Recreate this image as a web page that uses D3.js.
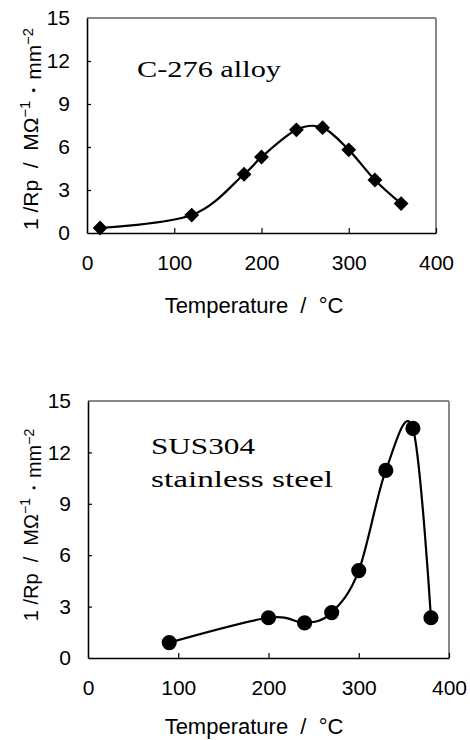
<!DOCTYPE html>
<html>
<head>
<meta charset="utf-8">
<script src="https://cdn.jsdelivr.net/npm/d3@7"></script>
<style>
    body { margin: 0; background: #fff; }
    text { font-family: 'Liberation Sans', Arial, sans-serif; }
    .serif { font-family: 'Liberation Serif', 'Times New Roman', serif; }
</style>
</head>
<body>
<div class="d3-container"></div>
<script>
const w = 470
const h = 740

// data
const tempC276 = [15, 120, 180, 200, 240, 270, 300, 330, 360]
const rpC276 = [0.35, 1.25, 4.1, 5.3, 7.2, 7.35, 5.8, 3.7, 2.05]
const tempSUS = [90, 200, 240, 270, 300, 330, 360, 380]
const rpSUS = [0.9, 2.35, 2.05, 2.65, 5.1, 10.95, 13.4, 2.35]

const xTicks = [0, 100, 200, 300, 400]
const yTicks = [0, 3, 6, 9, 12, 15]

const svg = d3.select('.d3-container')
    .append('svg')
    .attr('width', w)
    .attr('height', h)

const drawPanel = (cfg) => {
    const x = d3.scaleLinear().domain([0, 400]).range([cfg.left, cfg.right])
    const y = d3.scaleLinear().domain([0, 15]).range([cfg.bottom, cfg.top])

    const g = svg.append('g')

    // frame, gray top & right
    g.append('line')
        .attr('x1', cfg.left).attr('x2', cfg.right)
        .attr('y1', cfg.top).attr('y2', cfg.top)
        .attr('stroke', '#888').attr('stroke-width', 2)
    g.append('line')
        .attr('x1', cfg.right).attr('x2', cfg.right)
        .attr('y1', cfg.top).attr('y2', cfg.bottom)
        .attr('stroke', '#888').attr('stroke-width', 2)

    const xAxis = d3.axisBottom(x)
        .tickValues(xTicks)
        .tickSizeInner(-5)
        .tickSizeOuter(0)
        .tickPadding(22)

    const yAxis = d3.axisLeft(y)
        .tickValues(yTicks)
        .tickSizeInner(-4)
        .tickSizeOuter(0)
        .tickPadding(17)

    const gx = g.append('g')
        .attr('transform', `translate(0,${cfg.bottom})`)
        .call(xAxis)
    const gy = g.append('g')
        .attr('transform', `translate(${cfg.left},0)`)
        .call(yAxis)

    for (const a of [gx, gy]) {
        a.select('.domain').attr('stroke', '#000').attr('stroke-width', 1.6)
        a.selectAll('.tick line').attr('stroke', '#000').attr('stroke-width', 1.2)
        a.selectAll('.tick text')
            .attr('fill', '#000')
            .style('font-size', '21px')
    }
    gx.selectAll('.tick line').filter(d => d === 0).remove()
    gy.selectAll('.tick line').filter(d => d === 0 || d === 15).remove()

    // series
    const pts = cfg.xs.map((t, i) => [t, cfg.ys[i]])
    const line = d3.line()
        .x(d => x(d[0]))
        .y(d => y(d[1]))
        .curve(d3.curveCardinal.tension(0))

    g.append('path')
        .datum(pts)
        .attr('d', line)
        .attr('fill', 'none')
        .attr('stroke', '#000')
        .attr('stroke-width', 2.2)

    g.selectAll('.mark')
        .data(pts)
        .enter()
        .append('path')
        .attr('class', 'mark')
        .attr('d', cfg.symbol)
        .attr('transform', d => `translate(${x(d[0])},${y(d[1])}) rotate(${cfg.rot})`)
        .attr('fill', '#000')

    // axis titles
    g.append('text')
        .attr('x', 254)
        .attr('y', cfg.bottom + cfg.labelOff)
        .attr('text-anchor', 'middle')
        .style('font-size', '22px')
        .style('white-space', 'pre')
        .text('Temperature  /  °C')

    const yl = g.append('text')
        .attr('transform', `translate(38,${cfg.yMid}) rotate(-90)`)
        .attr('text-anchor', 'middle')
        .style('font-size', cfg.yFont + 'px')
        .style('white-space', 'pre')
    yl.append('tspan').text('1 /Rp  /  MΩ')
    yl.append('tspan').attr('dy', '-0.55em').style('font-size', '0.7em').text('−1')
    yl.append('tspan').attr('dy', '0.55em').text('・mm')
    yl.append('tspan').attr('dy', '-0.55em').style('font-size', '0.7em').text('−2')

    // panel caption
    cfg.caption.forEach((c, i) => {
        g.append('text')
            .attr('class', 'serif')
            .attr('x', cfg.capX)
            .attr('y', cfg.capY + i * 33)
            .attr('textLength', c.len)
            .attr('lengthAdjust', 'spacingAndGlyphs')
            .style('font-size', '24px')
            .text(c.text)
    })
}

drawPanel({
    left: 87, right: 436, top: 18, bottom: 233,
    xs: tempC276, ys: rpC276,
    symbol: d3.symbol(d3.symbolSquare, 110)(),
    rot: 45,
    yMid: 129, yFont: 21, labelOff: 80,
    capX: 137, capY: 77,
    caption: [{ text: 'C-276 alloy', len: 144 }]
})

drawPanel({
    left: 88, right: 449, top: 401, bottom: 658,
    xs: tempSUS, ys: rpSUS,
    symbol: d3.symbol(d3.symbolCircle, 180)(),
    rot: 0,
    yMid: 525, yFont: 20, labelOff: 76,
    capX: 151, capY: 454,
    caption: [{ text: 'SUS304', len: 104 }, { text: 'stainless steel', len: 182 }]
})
</script>
</body>
</html>
